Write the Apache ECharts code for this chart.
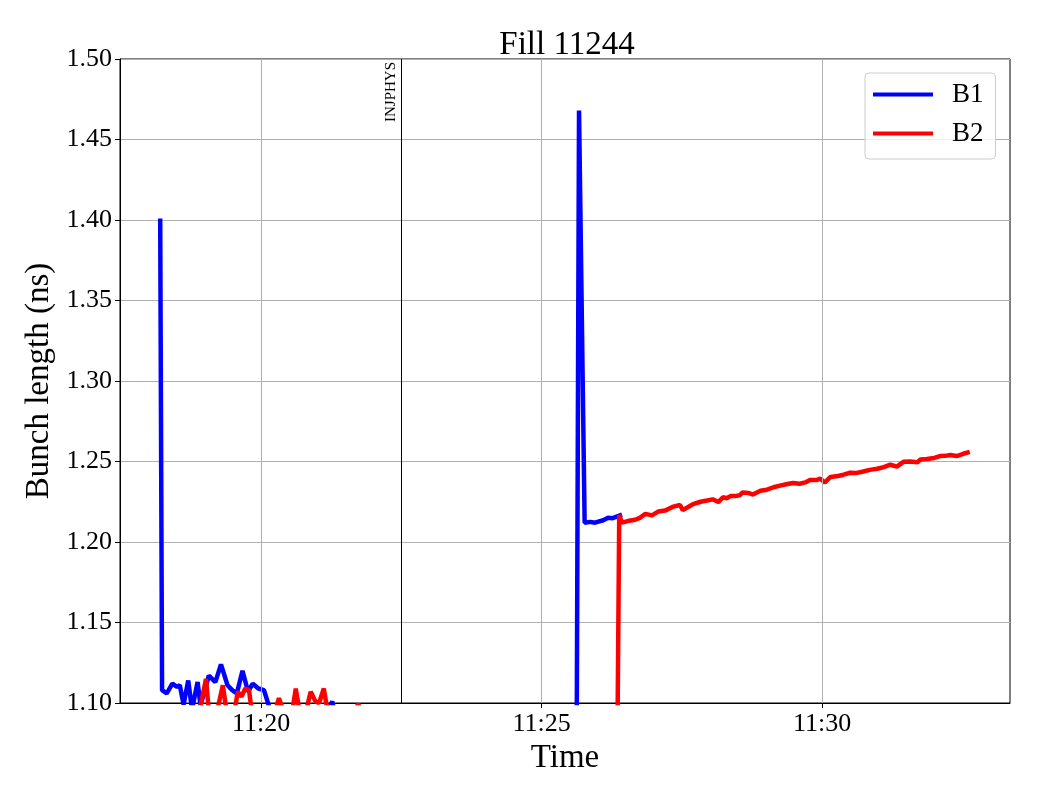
<!DOCTYPE html>
<html>
<head>
<meta charset="utf-8">
<script src="https://cdn.jsdelivr.net/npm/echarts@6/dist/echarts.min.js"></script>
<style>html,body{margin:0;padding:0;background:#fff;}#chart{width:1040px;height:800px;}</style>
</head>
<body>
<div id="chart"></div>
<script>
const DAY = '2025-10-01 ';
const titleText = 'Fill 11244';
const yTicks = [1.10, 1.15, 1.20, 1.25, 1.30, 1.35, 1.40, 1.45, 1.50];
const xTicks = ['11:20:00', '11:25:00', '11:30:00'];
const xMin = '11:17:29';
const xMax = '11:33:21';
const modeTime = '11:22:30';
const modeName = 'INJPHYS';

const b1Times = ['11:18:12','11:18:14','11:18:19','11:18:25','11:18:30','11:18:33','11:18:37','11:18:42','11:18:46','11:18:52','11:18:55','11:18:58','11:19:04','11:19:11','11:19:17','11:19:24','11:19:29','11:19:34','11:19:40','11:19:46','11:19:51','11:19:57','11:20:03','11:20:10','11:20:20','11:20:42','11:21:08','11:21:16','11:21:20','11:22:29','11:24:16','11:25:37','11:25:40','11:25:46','11:25:52','11:25:57','11:26:06','11:26:11','11:26:16','11:26:26'];
const b1Values = [1.401,1.108,1.106,1.112,1.110,1.111,1.099,1.114,1.096,1.113,1.099,1.104,1.117,1.113,1.124,1.111,1.108,1.106,1.120,1.107,1.112,1.109,1.108,1.095,1.085,1.080,1.090,1.101,1.090,1.050,1.040,1.000,1.468,1.212,1.2125,1.212,1.2135,1.215,1.2148,1.217];

const b2Times = ['11:18:49','11:18:54','11:19:01','11:19:04','11:19:11','11:19:19','11:19:23','11:19:30','11:19:35','11:19:39','11:19:43','11:19:47','11:19:51','11:20:04','11:20:15','11:20:19','11:20:24','11:20:32','11:20:37','11:20:41','11:20:48','11:20:53','11:20:58','11:21:02','11:21:07','11:21:11','11:21:24','11:21:44','11:21:51','11:23:22','11:25:09','11:26:20','11:26:23','11:26:26','11:26:32','11:26:40','11:26:45','11:26:51','11:26:58','11:27:05','11:27:12','11:27:21','11:27:28','11:27:31','11:27:39','11:27:42','11:27:50','11:27:57','11:28:03','11:28:09','11:28:14','11:28:18','11:28:22','11:28:27','11:28:32','11:28:35','11:28:41','11:28:46','11:28:54','11:29:01','11:29:08','11:29:15','11:29:23','11:29:29','11:29:36','11:29:42','11:29:47','11:29:54','11:29:58','11:30:03','11:30:09','11:30:17','11:30:23','11:30:30','11:30:36','11:30:44','11:30:51','11:30:59','11:31:06','11:31:13','11:31:20','11:31:27','11:31:34','11:31:42','11:31:45','11:31:52','11:32:00','11:32:06','11:32:12','11:32:17','11:32:24','11:32:31','11:32:38'];
const b2Values = [1.080,1.095,1.115,1.095,1.090,1.111,1.095,1.090,1.107,1.104,1.109,1.108,1.090,1.080,1.095,1.103,1.095,1.090,1.109,1.095,1.095,1.107,1.101,1.100,1.109,1.095,1.080,1.0995,1.080,1.050,1.040,1.000,1.2168,1.212,1.213,1.2138,1.215,1.2175,1.2165,1.219,1.2195,1.222,1.223,1.2198,1.2225,1.2235,1.225,1.2258,1.2265,1.2248,1.2278,1.2272,1.2285,1.2285,1.229,1.2308,1.2305,1.2295,1.2318,1.2325,1.234,1.235,1.236,1.2366,1.2362,1.237,1.2385,1.2385,1.2393,1.237,1.2404,1.241,1.2418,1.243,1.2428,1.2438,1.2448,1.2455,1.2465,1.248,1.2468,1.2498,1.250,1.2495,1.2512,1.2515,1.2522,1.2534,1.2535,1.254,1.2534,1.2548,1.256];

const FONT = '"Liberation Serif", "DejaVu Serif", serif';
const pairs = (ts, vs) => ts.map((t, i) => [DAY + t, vs[i]]);
const tickMs = xTicks.map(t => echarts.time.parse(DAY + t).getTime());

const chart = echarts.init(document.getElementById('chart'), null, {renderer: 'canvas'});
chart.setOption({
  animation: false,
  backgroundColor: '#fff',
  title: {
    text: titleText, left: 562, textAlign: 'center', top: 24,
    textStyle: {fontFamily: FONT, fontSize: 33, fontWeight: 'normal', color: '#000'}
  },
  grid: {left: 120, right: 30, top: 59, bottom: 97, show: true, borderColor: '#000', borderWidth: 1, containLabel: false},
  legend: {
    orient: 'vertical', left: 865, top: 73,
    padding: [8, 12, 12, 8], itemGap: 12,
    itemWidth: 60, itemHeight: 4, icon: 'rect',
    backgroundColor: 'rgba(255,255,255,0.8)', borderColor: '#cccccc', borderWidth: 1, borderRadius: 4,
    textStyle: {fontFamily: FONT, fontSize: 27, color: '#000', lineHeight: 27, padding: [0, 0, 0, 14]},
    data: ['B1', 'B2']
  },
  xAxis: {
    type: 'time', min: DAY + xMin, max: DAY + xMax,
    name: 'Time', nameLocation: 'middle', nameGap: 30,
    nameTextStyle: {fontFamily: FONT, fontSize: 33, color: '#000'},
    axisLine: {show: true, onZero: false, lineStyle: {color: '#000', width: 1}},
    axisTick: {show: true, inside: false, length: 5, lineStyle: {color: '#000'}, customValues: tickMs},
    axisLabel: {formatter: '{HH}:{mm}', fontFamily: FONT, fontSize: 26, color: '#000', margin: 8, customValues: tickMs},
    splitLine: {show: false},
    minorTick: {show: false}
  },
  yAxis: {
    type: 'value', min: yTicks[0], max: yTicks[yTicks.length - 1], interval: 0.05,
    name: 'Bunch length (ns)', nameLocation: 'middle', nameGap: 54, nameRotate: 90,
    nameTextStyle: {fontFamily: FONT, fontSize: 33, color: '#000'},
    axisLine: {show: true, lineStyle: {color: '#000', width: 1}},
    axisTick: {show: true, inside: false, length: 5, lineStyle: {color: '#000'}},
    axisLabel: {formatter: v => v.toFixed(2), fontFamily: FONT, fontSize: 26, color: '#000', margin: 8},
    splitLine: {show: true, lineStyle: {color: '#b0b0b0', width: 1}}
  },
  series: [
    {
      name: 'B1', type: 'line', data: pairs(b1Times, b1Values), showSymbol: false, symbol: 'none',
      clip: true, color: '#0000ff', lineStyle: {color: '#0000ff', width: 4.5}, z: 3,
      markLine: {
        silent: true, symbol: ['none', 'none'],
        lineStyle: {color: '#000', width: 1, type: 'solid'},
        label: {show: true, formatter: modeName, position: 'insideEndTop', distance: 3,
          fontFamily: FONT, fontSize: 15, color: '#000'},
        data: [{xAxis: DAY + modeTime}]
      }
    },
    {
      name: 'B2', type: 'line', data: pairs(b2Times, b2Values), showSymbol: false, symbol: 'none',
      clip: true, color: '#ff0000', lineStyle: {color: '#ff0000', width: 4.5}, z: 4
    },
    {
      name: 'xgrid', type: 'line', data: [], z: 1, silent: true,
      markLine: {
        silent: true, symbol: ['none', 'none'], label: {show: false},
        lineStyle: {color: '#b0b0b0', width: 1, type: 'solid'},
        data: tickMs.map(v => ({xAxis: v}))
      }
    }
  ]
});
</script>
</body>
</html>
